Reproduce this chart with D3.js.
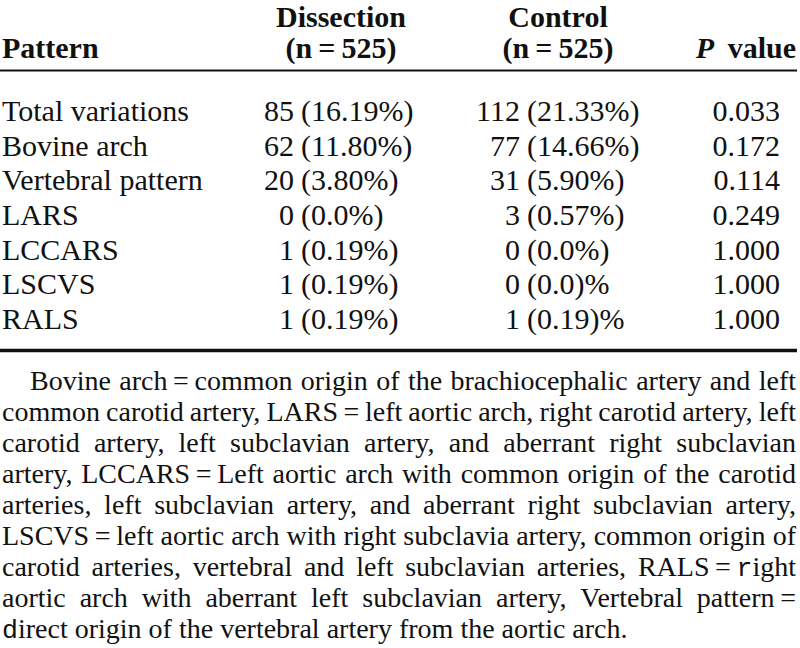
<!DOCTYPE html>
<html>
<head>
<meta charset="utf-8">
<script src="https://cdn.jsdelivr.net/npm/d3@7"></script>
<style>
  html, body { margin: 0; padding: 0; background: #fff; }
  svg { display: block; }
  text { font-family: "Liberation Serif", "Times New Roman", serif; fill: #111; }
</style>
</head>
<body>
<svg id="chart" width="800" height="648"></svg>
<script>
// ---- data ----
const patterns = ["Total variations", "Bovine arch", "Vertebral pattern", "LARS", "LCCARS", "LSCVS", "RALS"];
const dissectionN = ["85", "62", "20", "0", "1", "1", "1"];
const dissectionPct = ["(16.19%)", "(11.80%)", "(3.80%)", "(0.0%)", "(0.19%)", "(0.19%)", "(0.19%)"];
const controlN = ["112", "77", "31", "3", "0", "0", "1"];
const controlPct = ["(21.33%)", "(14.66%)", "(5.90%)", "(0.57%)", "(0.0%)", "(0.0)%", "(0.19)%"];
const pValues = ["0.033", "0.172", "0.114", "0.249", "1.000", "1.000", "1.000"];
const headerLine1 = ["", "Dissection", "Control", ""];
const headerLine2 = ["Pattern", "(n\u2009=\u2009525)", "(n\u2009=\u2009525)", "value"];
const footnoteLines = [
  "Bovine arch\u2009=\u2009common origin of the brachiocephalic artery and left",
  "common carotid artery, LARS\u2009=\u2009left aortic arch, right carotid artery, left",
  "carotid artery, left subclavian artery, and aberrant right subclavian",
  "artery, LCCARS\u2009=\u2009Left aortic arch with common origin of the carotid",
  "arteries, left subclavian artery, and aberrant right subclavian artery,",
  "LSCVS\u2009=\u2009left aortic arch with right subclavia artery, common origin of",
  "carotid arteries, vertebral and left subclavian arteries, RALS\u2009=\u2009\u0000right",
  "aortic arch with aberrant left subclavian artery, Vertebral pattern\u2009=",
  "\u0000direct origin of the vertebral artery from the aortic arch."
];

const svg = d3.select("#chart");

// row scales
const yRow = d3.scaleLinear().domain([0, patterns.length - 1]).range([121, 329]);
const yFoot = d3.scaleLinear().domain([0, footnoteLines.length - 1]).range([390, 638]);

const fsTable = 30, fsFoot = 28;

// header
const hdr = svg.append("g").attr("font-weight", "bold").attr("font-size", fsTable);
hdr.append("text").attr("x", 341).attr("y", 27).attr("text-anchor", "middle").text(headerLine1[1]);
hdr.append("text").attr("x", 558).attr("y", 27).attr("text-anchor", "middle").text(headerLine1[2]);
hdr.append("text").attr("x", 2).attr("y", 58).text(headerLine2[0]);
hdr.append("text").attr("x", 341).attr("y", 58).attr("text-anchor", "middle").text(headerLine2[1]);
hdr.append("text").attr("x", 558).attr("y", 58).attr("text-anchor", "middle").text(headerLine2[2]);
const pv = hdr.append("text").attr("x", 796).attr("y", 58).attr("text-anchor", "end");
pv.append("tspan").attr("font-style", "italic").text("P");
pv.append("tspan").text("\u00A0\u2009" + headerLine2[3]);

// rules
svg.append("line").attr("x1", 0).attr("x2", 797).attr("y1", 70.5).attr("y2", 70.5)
  .attr("stroke", "#111").attr("stroke-width", 2);
svg.append("line").attr("x1", 0).attr("x2", 797).attr("y1", 350.5).attr("y2", 350.5)
  .attr("stroke", "#111").attr("stroke-width", 3.5);

// body rows
const rows = svg.append("g").attr("font-size", fsTable)
  .selectAll("g").data(patterns).join("g")
  .attr("transform", (d, i) => `translate(0,${yRow(i)})`);
rows.append("text").attr("x", 2).text(d => d);
rows.append("text").attr("x", 294).attr("text-anchor", "end").text((d, i) => dissectionN[i]);
rows.append("text").attr("x", 301).text((d, i) => dissectionPct[i]);
rows.append("text").attr("x", 520).attr("text-anchor", "end").text((d, i) => controlN[i]);
rows.append("text").attr("x", 527).text((d, i) => controlPct[i]);
rows.append("text").attr("x", 780).attr("text-anchor", "end").text((d, i) => pValues[i]);

// footnote, justified
const left = 2, right = 796, indent = 30;
const foot = svg.append("g").attr("font-size", fsFoot);
footnoteLines.forEach((line, li) => {
  const words = line.split(" ");
  const y = yFoot(li);
  const x0 = li === 0 ? indent : left;
  const nodes = words.map(w => {
    const t = foot.append("text").attr("y", y);
    if (w.includes("\u0000")) {
      const [pre, post] = w.split("\u0000");
      if (pre) t.append("tspan").text(pre);
      t.append("tspan").attr("font-family", "Liberation Mono").attr("font-size", fsFoot * 0.95).text(post[0]);
      t.append("tspan").text(post.slice(1));
    } else {
      t.text(w);
    }
    return t;
  });
  const widths = nodes.map(n => n.node().getComputedTextLength());
  const total = d3.sum(widths);
  const last = li === footnoteLines.length - 1;
  const gap = (!last && words.length > 1) ? (right - x0 - total) / (words.length - 1) : fsFoot * 0.25;
  let x = x0;
  nodes.forEach((n, i) => { n.attr("x", x); x += widths[i] + gap; });
});
</script>
</body>
</html>
